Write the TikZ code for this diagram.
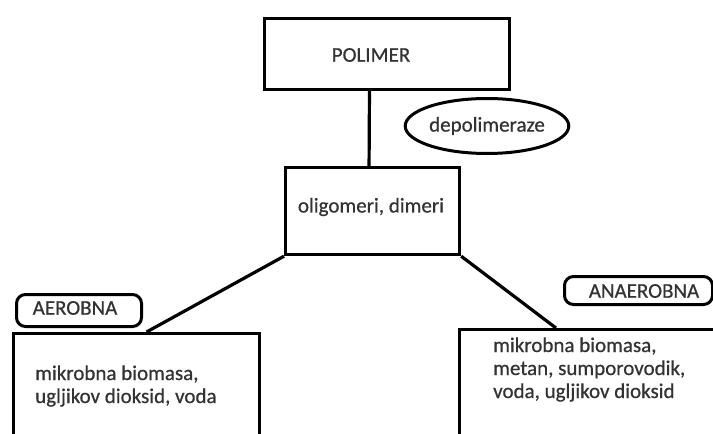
\documentclass[tikz,border=0pt]{standalone}
\usepackage{fontspec}
\setmainfont{Carlito}[FakeBold=0.6]
\usetikzlibrary{shapes.geometric,calc}
\definecolor{txt}{HTML}{333333}
\begin{document}
\begin{tikzpicture}[x=1pt,y=-1pt,
  box/.style={draw=black,line width=3.2pt,rectangle,inner sep=0pt,anchor=north west},
  tag/.style={draw=black,line width=3pt,rounded corners=9pt,inner sep=0pt,anchor=north west},
  oval/.style={draw=black,line width=3pt,ellipse,inner sep=0pt,minimum width=141pt,minimum height=55pt,font=\fontsize{21}{23}\selectfont,text=txt},
  lbl/.style={inner sep=0pt,font=\fontsize{21}{23}\selectfont,text=txt},
  conn/.style={draw=black,line width=3.2pt}]
\useasboundingbox (0,0) rectangle (713,434);
\fill[white] (0,0) rectangle (713,434);
\clip (0,0) rectangle (713,434);
% boxes
\node[box,minimum width=245pt,minimum height=71pt] (pol) at (263,17) {};
\node[box,minimum width=174pt,minimum height=87pt] (oli) at (284,166) {};
\node[box,minimum width=246pt,minimum height=160pt] (lbox) at (12,332) {};
\node[box,minimum width=300pt,minimum height=160pt] (rbox) at (458,328) {};
\node[tag,minimum width=125pt,minimum height=32pt] (aer) at (15,293) {};
\node[tag,minimum width=148pt,minimum height=28pt] (anaer) at (563,275) {};
\node[oval] (dep) at (487,126) {depolimeraze};
% texts
\node[lbl] (tpol) at (371,55) {POLIMER};
\node[lbl] (toli) at (371,207) {oligomeri, dimeri};
\node[lbl] (taer) at (75,308) {AEROBNA};
\node[lbl] (tanaer) at (644,291) {ANAEROBNA};
\node[lbl,anchor=base west,align=left] (tl) at (35,403) {mikrobna biomasa,\\ugljikov dioksid, voda};
\node[lbl,anchor=base west,align=left] (tr) at (493,398) {mikrobna biomasa,\\metan, sumporovodik,\\voda, ugljikov dioksid};
% connectors
\draw[conn] ($(pol.south west)!0.429!(pol.south east)$) -- ($(oli.north west)!0.48!(oli.north east)$);
\draw[conn] (oli.south west) -- ($(lbox.north west)!0.54!(lbox.north east)$);
\draw[conn] (oli.south east) -- ($(rbox.north west)!0.323!(rbox.north east)$);
\end{tikzpicture}
\end{document}
